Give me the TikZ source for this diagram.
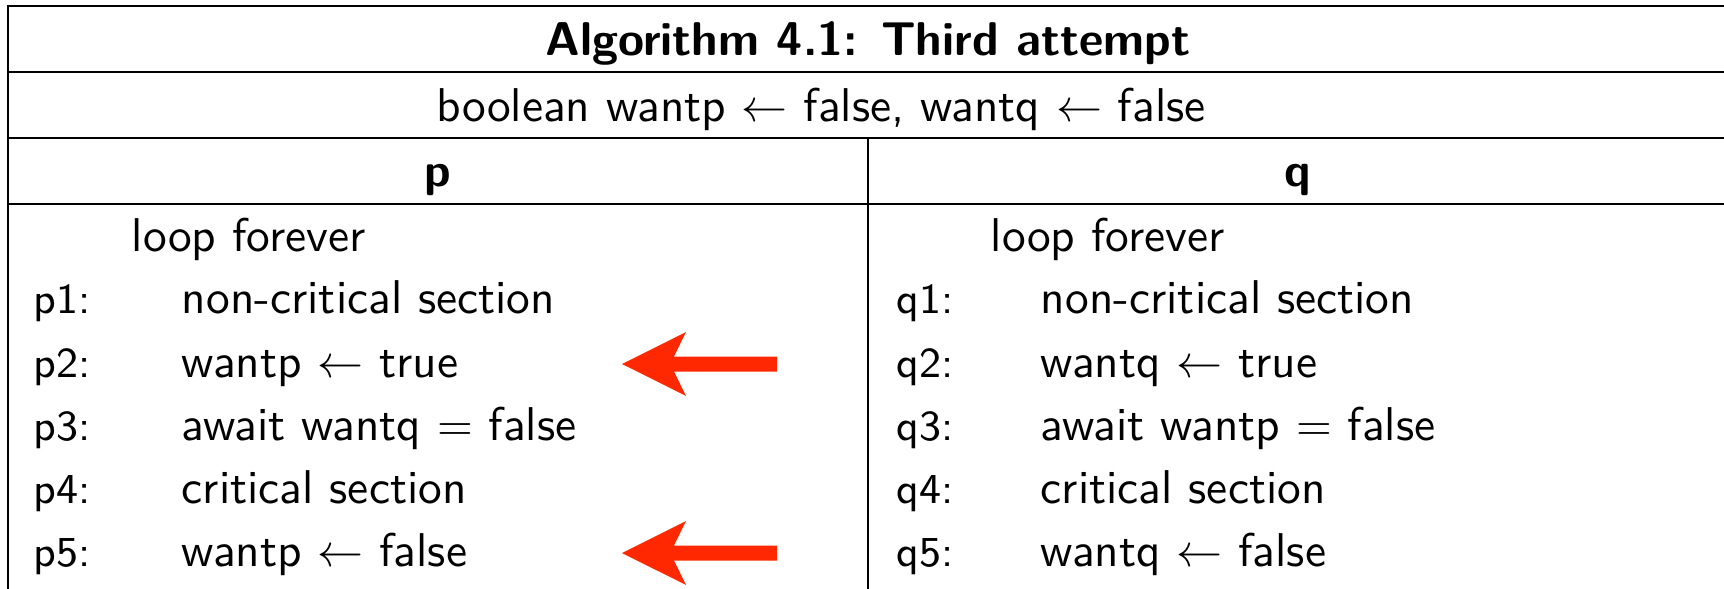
\documentclass[tikz,border=0pt]{standalone}
\usepackage{tikz}
\usetikzlibrary{calc}

\definecolor{hintred}{RGB}{255,40,0}
\tikzset{
  rule/.style={line width=0.5pt},
  txt/.style={anchor=base west, inner sep=0pt,
    font=\sffamily\fontsize{10.3}{12}\selectfont},
  lbl/.style={anchor=base west, inner sep=0pt,
    font=\sffamily\fontsize{9.3}{11}\selectfont},
  head/.style={anchor=base, inner sep=0pt,
    font=\sffamily\bfseries\fontsize{10.3}{12}\selectfont},
  hint/.style={fill=hintred},
}

\begin{document}
\begin{tikzpicture}[x=21.74pt, y=-21.74pt]
  \useasboundingbox (0,0) rectangle (17.24,5.89);
  % frame
  \draw[rule] (17.24,0.06) -- (0.08,0.06) -- (0.08,5.89);
  \foreach \y in {0.72,1.38,2.04}
    \draw[rule] (0.08,\y) -- (17.24,\y);
  \draw[rule] (8.68,1.38) -- (8.68,5.89);
  % headings
  \node[head] (title) at (8.68,0.55) {Algorithm 4.1: Third attempt};
  \node[txt, anchor=base] (decl) at (8.21,1.21)
    {boolean wantp $\leftarrow$ false, wantq $\leftarrow$ false};
  \node[head] (hp) at (4.38,1.87) {p};
  \node[head] (hq) at (12.98,1.87) {q};
  % bodies
  \node[txt] (loopp) at (1.31,2.51) {loop forever};
  \node[txt] (loopq) at (9.90,2.51) {loop forever};
  \foreach \i/\y/\pstmt/\qstmt in {
      1/3.14/{non-critical section}/{non-critical section},
      2/3.77/{wantp $\leftarrow$ true}/{wantq $\leftarrow$ true},
      3/4.40/{await wantq $=$ false}/{await wantp $=$ false},
      4/5.03/{critical section}/{critical section},
      5/5.66/{wantp $\leftarrow$ false}/{wantq $\leftarrow$ false}} {
    \node[lbl] (lp\i) at (0.33,\y) {p\i:};
    \node[txt] (sp\i) at (1.81,\y) {\pstmt};
    \node[lbl] (lq\i) at (8.96,\y) {q\i:};
    \node[txt] (sq\i) at (10.40,\y) {\qstmt};
  }
  % red pointers
  \foreach \i in {2,5} {
    \coordinate (tip\i) at ($(6.22,0 |- sp\i.base)+(0,-0.13)$);
    \fill[hint] (tip\i) -- ++(0.64,-0.32) -- ++(-0.12,0.245) -- ++(1.03,0)
      -- ++(0,0.15) -- ++(-1.03,0) -- ++(0.12,0.245) -- cycle;
  }
\end{tikzpicture}
\end{document}
